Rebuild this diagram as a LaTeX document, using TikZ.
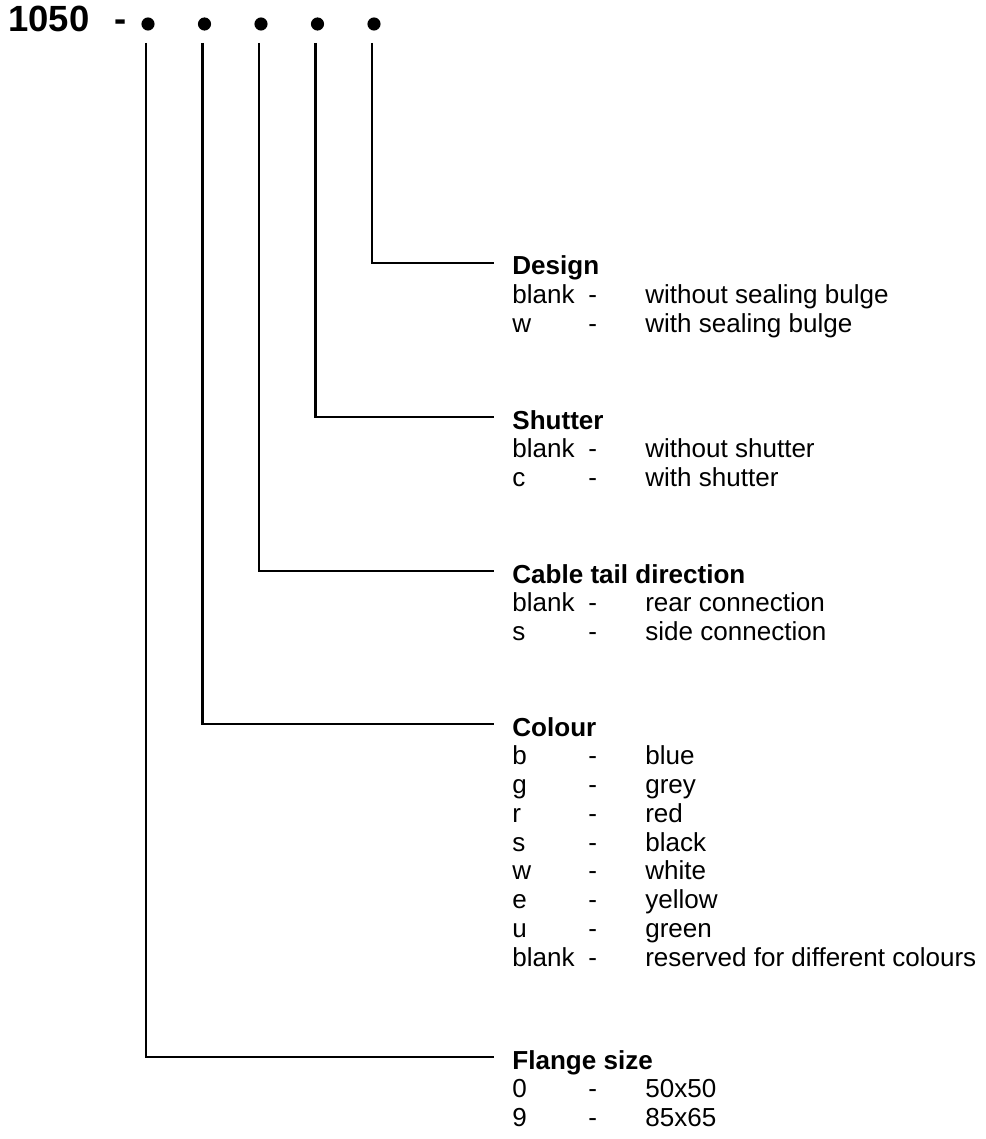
\documentclass[tikz,border=0pt]{standalone}
\usepackage{fontspec}
\setmainfont{Liberation Sans}
\usetikzlibrary{calc}

\begin{document}
\begin{tikzpicture}[x=0.48pt,y=-0.48pt,
                    code/.style={font=\fontsize{17.5}{20}\selectfont\bfseries,anchor=base west,inner sep=0pt},
                    bullet/.style={circle,fill,inner sep=0pt,minimum size=6.3pt},
                    option/.style={font=\fontsize{12.5}{13.8}\selectfont,anchor=base west,inner sep=0pt},
                    lead/.style={line width=1pt}]
  \useasboundingbox (0,0) rectangle (985,1139);
  \node[code] (code) at (8,32) {1050\hspace{12pt}-};
  \foreach \i in {1,...,5}
    \node[bullet] (d\i) at ({148+56.5*(\i-1)},24) {};

  \node[option] (design) at (512,275) {\begin{tabular}[t]{@{}p{36.5pt}@{}p{27.3pt}@{}l@{}}
      \multicolumn{3}{@{}l@{}}{\bfseries Design}\\
      blank & - & without sealing bulge\\
      w & - & with sealing bulge
    \end{tabular}};
  \node[option] (shutter) at (512,429) {\begin{tabular}[t]{@{}p{36.5pt}@{}p{27.3pt}@{}l@{}}
      \multicolumn{3}{@{}l@{}}{\bfseries Shutter}\\
      blank & - & without shutter\\
      c & - & with shutter
    \end{tabular}};
  \node[option] (cable) at (512,583) {\begin{tabular}[t]{@{}p{36.5pt}@{}p{27.3pt}@{}l@{}}
      \multicolumn{3}{@{}l@{}}{\bfseries Cable tail direction}\\
      blank & - & rear connection\\
      s & - & side connection
    \end{tabular}};
  \node[option] (colour) at (512,736) {\begin{tabular}[t]{@{}p{36.5pt}@{}p{27.3pt}@{}l@{}}
      \multicolumn{3}{@{}l@{}}{\bfseries Colour}\\
      b & - & blue\\
      g & - & grey\\
      r & - & red\\
      s & - & black\\
      w & - & white\\
      e & - & yellow\\
      u & - & green\\
      blank & - & reserved for different colours
    \end{tabular}};
  \node[option] (flange) at (512,1069) {\begin{tabular}[t]{@{}p{36.5pt}@{}p{27.3pt}@{}l@{}}
      \multicolumn{3}{@{}l@{}}{\bfseries Flange size}\\
      0 & - & 50x50\\
      9 & - & 85x65
    \end{tabular}};

  \foreach \d/\b in {1/flange,2/colour,3/cable,4/shutter,5/design}
    \draw[lead] ([shift={(-2,19)}]d\d.center) |- ([shift={(-18,-12)}]\b.base west);
\end{tikzpicture}
\end{document}
